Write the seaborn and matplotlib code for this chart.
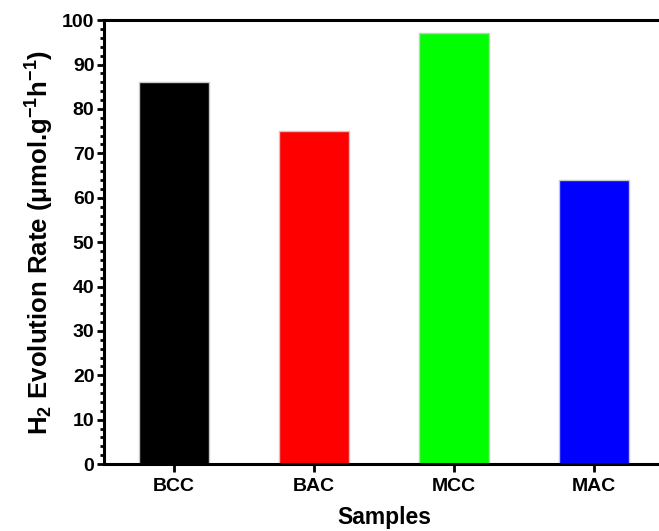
import pandas as pd
import matplotlib.pyplot as plt
import seaborn as sns
from matplotlib.ticker import MultipleLocator

samples = ["BCC", "BAC", "MCC", "MAC"]
rates = [86, 75, 97, 64]
colors = ["#000000", "#ff0000", "#00ff00", "#0000ff"]


def main():
    df = pd.DataFrame({"Sample": samples, "Rate": rates})

    sns.set_theme(style="ticks")
    plt.rcParams["font.family"] = ["Liberation Sans", "DejaVu Sans"]
    plt.rcParams["font.weight"] = "bold"
    plt.rcParams["text.color"] = "black"
    plt.rcParams["axes.labelcolor"] = "black"
    plt.rcParams["xtick.color"] = "black"
    plt.rcParams["ytick.color"] = "black"
    plt.rcParams["axes.unicode_minus"] = False
    plt.rcParams["mathtext.fontset"] = "custom"
    plt.rcParams["mathtext.rm"] = "Liberation Sans:bold"
    plt.rcParams["mathtext.it"] = "Liberation Sans:bold"
    plt.rcParams["mathtext.bf"] = "Liberation Sans:bold"

    fig = plt.figure(figsize=(6.59, 5.31), dpi=100)
    ax = fig.add_axes([0.158, 0.126, 0.850, 0.836])

    sns.barplot(data=df, x="Sample", y="Rate", hue="Sample", palette=colors,
                saturation=1, width=0.5, edgecolor="#c8c8c8", linewidth=1.0,
                legend=False, ax=ax)

    ax.set_xlim(-0.5, 3.5)
    ax.set_ylim(0, 100)
    ax.yaxis.set_major_locator(MultipleLocator(10))
    ax.yaxis.set_minor_locator(MultipleLocator(2))

    for side in ["left", "bottom", "top"]:
        ax.spines[side].set_linewidth(2.2)
        ax.spines[side].set_color("black")
    ax.spines["right"].set_visible(False)

    ax.tick_params(axis="y", which="major", direction="out", length=5, width=2,
                   labelsize=14, pad=2)
    ax.tick_params(axis="y", which="minor", direction="out", length=3, width=2)
    ax.tick_params(axis="x", which="major", direction="out", length=6, width=2,
                   labelsize=14, pad=4)
    for lab in ax.get_xticklabels() + ax.get_yticklabels():
        lab.set_fontweight("bold")

    ax.set_xlabel("Samples", fontsize=16.5, fontweight="bold", labelpad=8)
    ax.set_ylabel(r"H$_2$ Evolution Rate (μmol.g$^{-1}$h$^{-1}$)", fontsize=18.5,
                  fontweight="bold", labelpad=4)

    fig.savefig("out.png", dpi=100)


if __name__ == "__main__":
    main()
